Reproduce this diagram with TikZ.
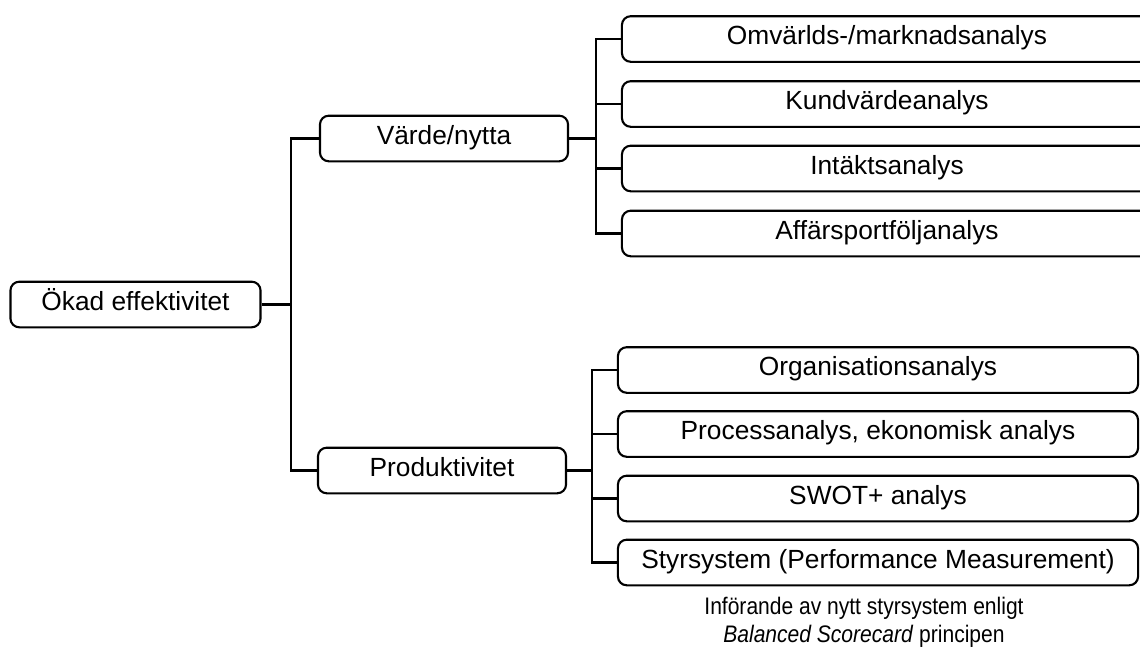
\documentclass[tikz,border=0pt]{standalone}
\usepackage{fontspec}
\setmainfont{Liberation Sans}
\newfontfamily\notefont[FakeStretch=0.88]{Liberation Sans}
\usetikzlibrary{positioning, calc}

\begin{document}
\begin{tikzpicture}[
    x=0.025cm, y=-0.025cm,
    % Box styles
    basebox/.style={draw, line width=1.5pt, rounded corners=0.22cm, minimum height=1.14cm,
        inner sep=0pt, text height=0.9em, text depth=0.1em, font=\fontsize{18.7}{22}\selectfont},
    goalbox/.style={basebox, minimum width=6.25cm},
    areabox/.style={basebox, minimum width=6.2cm},
    topbox/.style={basebox, minimum width=13.25cm},
    lowbox/.style={basebox, minimum width=13cm},
    % Text and line styles
    note/.style={align=center, font=\notefont\fontsize{17}{20}\selectfont},
    link/.style={line width=1.5pt}
]
\clip (0,0) rectangle (1140,647);

% Goal and the two areas
\node[goalbox] (okad) at (135.5,304.5) {Ökad effektivitet};
\node[areabox] (varde) at (444,138.5) {Värde/nytta};
\node[areabox] (prod) at (442,470.5) {Produktivitet};

% Analyses for value
\node[topbox] (top1) at (887,39) {Omvärlds-/marknadsanalys};
\node[topbox] (top2) at (887,104) {Kundvärdeanalys};
\node[topbox] (top3) at (887,168.5) {Intäktsanalys};
\node[topbox] (top4) at (887,233.5) {Affärsportföljanalys};

% Analyses for productivity
\node[lowbox] (low1) at (878,370) {Organisationsanalys};
\node[lowbox] (low2) at (878,434) {Processanalys, ekonomisk analys};
\node[lowbox] (low3) at (878,498.5) {SWOT+ analys};
\node[lowbox] (low4) at (878,562.5) {Styrsystem (Performance Measurement)};

% Note under the last box
\node[note] (note) at (864,622) {Införande av nytt styrsystem enligt\\\textit{Balanced Scorecard} principen};

% Forks
\path (okad.east) ++(29,0) coordinate (fork1);
\path (varde.east) ++(27,0) coordinate (fork2);
\path (prod.east) ++(25,0) coordinate (fork3);

% Connections
\draw[link] (okad.east) -- (fork1);
\draw[link] (varde.west) -| (fork1) |- (prod.west);

\draw[link] (varde.east) -- (fork2);
\draw[link] (top1.west) -| (fork2) |- (top4.west);
\foreach \i in {2,3} {
    \draw[link] (top\i.west) -- (top\i.west -| fork2);
}

\draw[link] (prod.east) -- (fork3);
\draw[link] (low1.west) -| (fork3) |- (low4.west);
\foreach \i in {2,3} {
    \draw[link] (low\i.west) -- (low\i.west -| fork3);
}

\end{tikzpicture}
\end{document}
